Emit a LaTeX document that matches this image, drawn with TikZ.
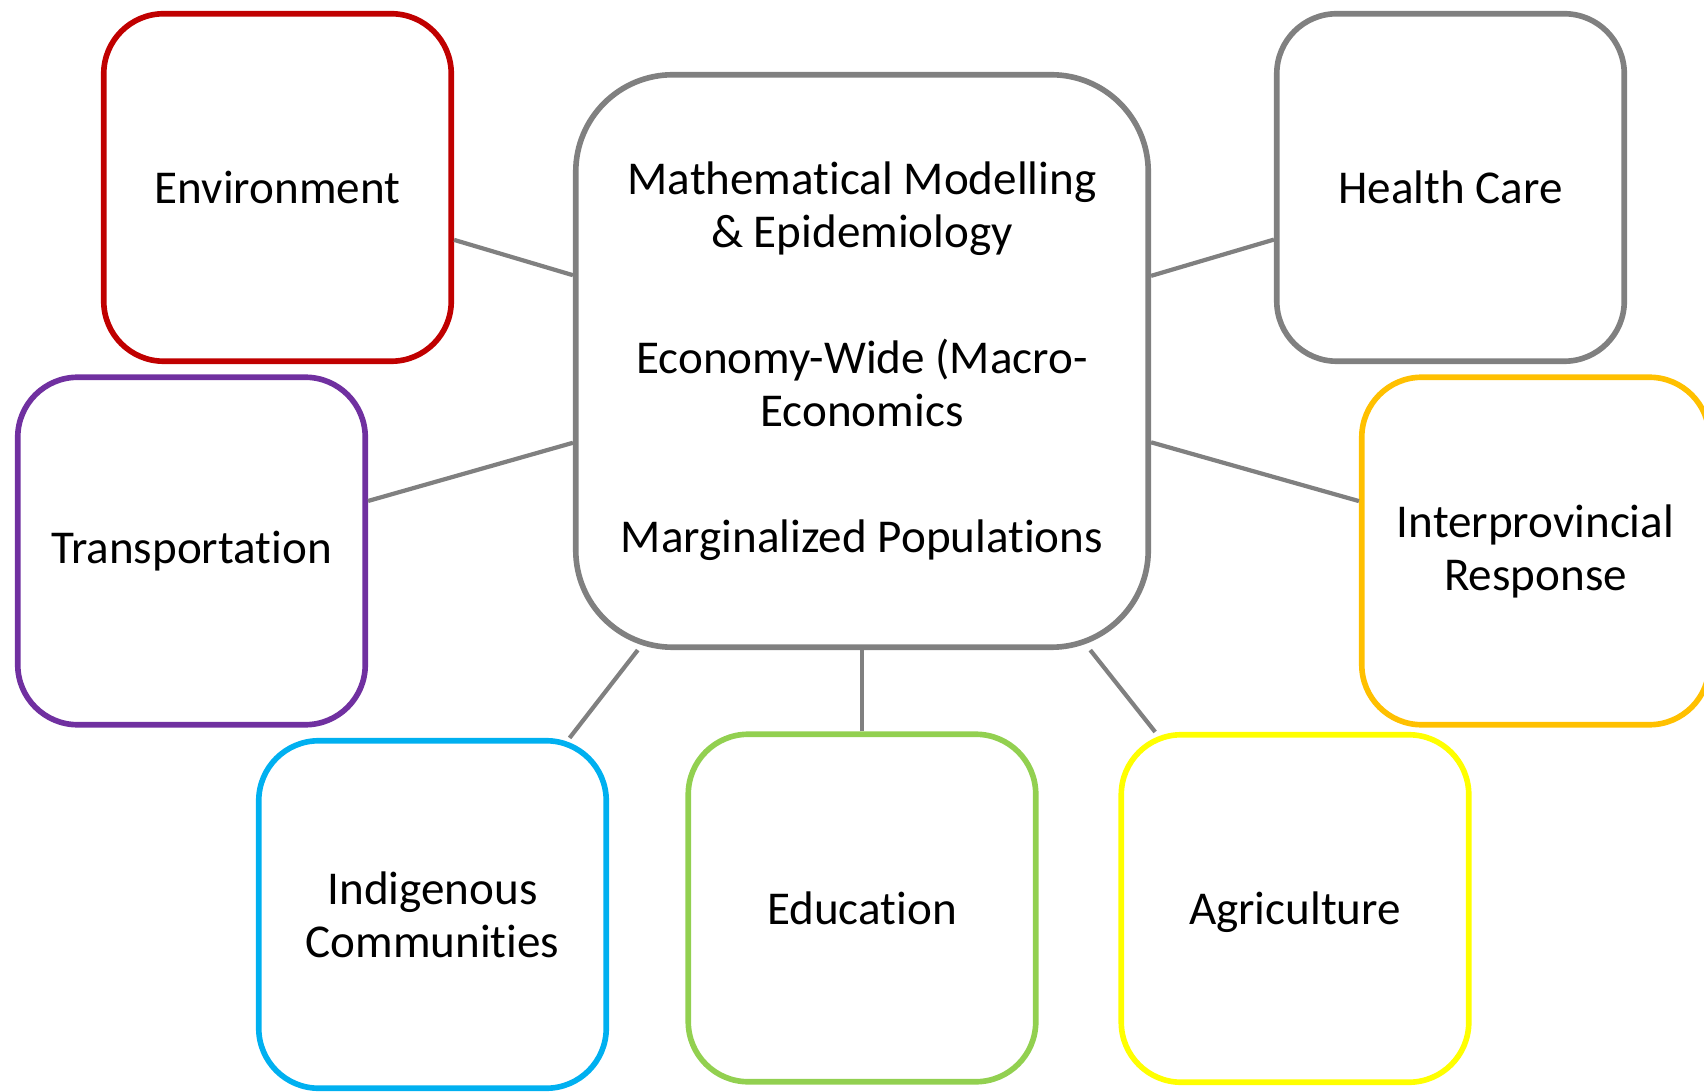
\documentclass[tikz,border=0pt]{standalone}
\usepackage{fontspec}
\setmainfont[Ligatures={NoCommon,NoContextual,NoRare},Contextuals={NoAlternate}]{Carlito}
\usepackage{xcolor}
\definecolor{envred}{HTML}{C00000}
\definecolor{transpurple}{HTML}{7030A0}
\definecolor{indigcyan}{HTML}{00B0F0}
\definecolor{edugreen}{HTML}{92D050}
\definecolor{agriyellow}{HTML}{FFFF00}
\definecolor{provgold}{HTML}{FFC000}
\definecolor{hubgray}{HTML}{808080}
\tikzset{
  topicbox/.style={draw=#1, line width=1.6pt, fill=white, rounded corners=0.6cm,
    minimum width=3.475cm, minimum height=3.475cm, align=center, inner sep=0pt,
    font=\fontsize{13.4}{15.1}\selectfont},
  hubbox/.style={draw=hubgray, line width=1.6pt, fill=white, rounded corners=0.97cm,
    minimum width=5.725cm, minimum height=5.725cm, align=center, inner sep=0pt,
    font=\fontsize{13.4}{15.1}\selectfont},
  link/.style={draw=hubgray, line width=1.2pt}
}
\begin{document}
\begin{tikzpicture}
\useasboundingbox (0,0) rectangle (17.04,10.91);
% central hub
\node [hubbox] (hub) at (8.62,7.30) {Mathematical Modelling\\ \& Epidemiology\\[20.8pt]
  Economy-Wide (Macro-\\ Economics\\[20.8pt] Marginalized Populations};
% surrounding topics
\node [topicbox=envred] (environment) at (2.775,9.035) {Environment};
\node [topicbox=hubgray] (healthcare) at (14.505,9.035) {Health Care};
\node [topicbox=transpurple] (transportation) at (1.915,5.40) {Transportation};
\node [topicbox=provgold] (interprovincial) at (15.355,5.40) {Interprovincial\\ Response};
\node [topicbox=indigcyan] (indigenous) at (4.325,1.765) {Indigenous\\ Communities};
\node [topicbox=edugreen] (education) at (8.62,1.83) {Education};
\node [topicbox=agriyellow, text depth=0pt] (agriculture) at (12.95,1.825) {Agriculture};
% links
\draw [link] (environment) -- (hub);
\draw [link] (healthcare) -- (hub);
\draw [link] (transportation) -- (hub);
\draw [link] (interprovincial) -- (hub);
\draw [link] (indigenous) -- (hub);
\draw [link] (education) -- (hub);
\draw [link] (agriculture) -- (hub);
\end{tikzpicture}
\end{document}
